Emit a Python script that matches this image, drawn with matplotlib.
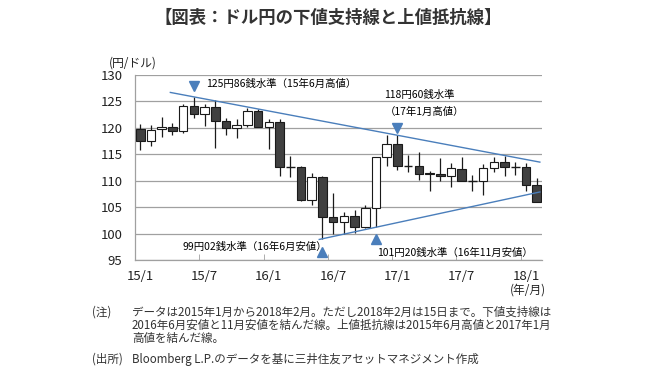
import matplotlib

matplotlib.use("Agg")

import matplotlib.pyplot as plt
import numpy as np

plt.rcParams["font.family"] = ["Noto Sans CJK JP", "DejaVu Sans"]

# monthly USD/JPY, 2015/1 .. 2018/2
opens = [119.8, 117.5, 119.7, 120.2, 119.4, 124.2, 122.6, 124.0, 121.3, 119.9, 120.6, 123.1,
         120.2, 121.1, 112.6, 112.6, 106.4, 110.7, 103.2, 102.1, 103.4, 101.3, 104.9, 114.4,
         116.9, 112.8, 112.8, 111.5, 111.3, 110.8, 112.3, 110.0, 110.0, 112.4, 113.5, 112.6,
         112.6, 109.2]
highs = [120.8, 120.6, 122.1, 121.0, 124.5, 125.86, 124.6, 125.3, 121.8, 121.6, 123.8, 123.6,
         121.7, 121.6, 114.6, 112.7, 111.4, 110.8, 107.7, 104.0, 104.4, 105.4, 114.4, 118.66,
         118.60, 114.9, 115.5, 111.8, 114.3, 113.3, 114.4, 111.1, 113.2, 114.4, 114.6, 113.5,
         113.3, 110.5]
lows = [115.9, 116.6, 118.3, 118.6, 119.0, 121.9, 120.4, 116.2, 118.6, 118.0, 120.2, 120.2,
        116.0, 110.9, 110.7, 106.1, 105.4, 99.02, 100.0, 99.9, 100.1, 101.1, 101.20, 112.8,
        112.1, 111.6, 110.1, 108.1, 110.0, 108.9, 110.0, 108.1, 107.3, 111.6, 110.8, 111.1,
        108.1, 105.9]
closes = [117.5, 119.6, 120.2, 119.4, 124.2, 122.6, 124.0, 121.3, 119.9, 120.6, 123.1, 120.2,
          121.1, 112.6, 112.6, 106.4, 110.7, 103.2, 102.1, 103.4, 101.3, 104.9, 114.4, 116.9,
          112.8, 112.8, 111.3, 111.3, 110.8, 112.4, 110.0, 110.0, 112.4, 113.5, 112.6, 112.6,
          109.2, 105.9]

tick_labels = ["15/1", "15/7", "16/1", "16/7", "17/1", "17/7", "18/1"]
tick_idx = [0, 6, 12, 18, 24, 30, 36]

# trendline anchors: (month index, price)
res_pts = [(5, 125.86), (24, 118.60)]   # 15/6 high, 17/1 high
sup_pts = [(17, 99.02), (22, 101.20)]   # 16/6 low, 16/11 low

W, H = 667, 373
fig = plt.figure(figsize=(W / 100, H / 100), dpi=100)
ax = fig.add_axes([135 / W, 1 - 260 / H, 407 / W, 185 / H])

x = np.arange(len(opens))
bw = 0.8
dark = "#404040"
edge = "#1a1a1a"

ax.vlines(x, lows, highs, color=edge, lw=0.9, zorder=2)
for i in x:
    o, c = opens[i], closes[i]
    if abs(c - o) < 0.15:
        ax.hlines(o, i - bw / 2, i + bw / 2, color=edge, lw=1.0, zorder=3)
    else:
        ax.bar(i, abs(c - o), bottom=min(o, c), width=bw,
               color=dark if c < o else "white", edgecolor=edge, lw=0.8, zorder=3)

blue = "#4a7ebb"
for pts, x0 in [(res_pts, 2.8), (sup_pts, 16.7)]:
    (xa, ya), (xb, yb) = pts
    k = (yb - ya) / (xb - xa)
    xs = np.array([x0, 37.3])
    ax.plot(xs, ya + k * (xs - xa), color=blue, lw=1.0, zorder=4)

ax.plot([5, 24], [128.0, 119.9], "v", color=blue, ms=7, zorder=5)
ax.plot([17, 22], [96.6, 99.0], "^", color=blue, ms=7, zorder=5)

fs = 7.5
ax.text(6.1, 128.3, "125円86銭水準（15年6月高値）", fontsize=fs, va="center")
ax.text(22.8, 126.2, "118円60銭水準", fontsize=fs, va="center")
ax.text(22.8, 123.0, "（17年1月高値）", fontsize=fs, va="center")
ax.text(3.9, 97.5, "99円02銭水準（16年6月安値）", fontsize=fs, va="center")
ax.text(22.1, 96.3, "101円20銭水準（16年11月安値）", fontsize=fs, va="center")

ax.set_xlim(-0.5, 37.5)
ax.set_ylim(95, 130)
ax.set_yticks(np.arange(95, 131, 5))
ax.set_xticks(tick_idx)
ax.set_xticklabels(tick_labels)
ax.set_xticks(np.arange(5.5, 37, 6), minor=True)
ax.grid(axis="y", color="#a0a0a0", lw=0.9)
ax.set_axisbelow(True)
ax.tick_params(axis="y", length=0, pad=9, labelsize=9.5, labelcolor="#222")
ax.tick_params(axis="x", which="major", length=0, pad=7, labelsize=9.5, labelcolor="#222")
ax.tick_params(axis="x", which="minor", direction="in", length=4, color="#a0a0a0")
for s in ["top", "right"]:
    ax.spines[s].set_visible(False)
for s in ["left", "bottom"]:
    ax.spines[s].set_color("#a0a0a0")
    ax.spines[s].set_linewidth(0.9)


def ftext(px, py, s, **kw):
    fig.text(px / W, 1 - py / H, s, **kw)


ftext(328, 18, "【図表：ドル円の下値支持線と上値抵抗線】", fontsize=12.5,
      fontweight="bold", ha="center", va="center", color="#333")
ftext(133, 63, "(円/ドル)", fontsize=8.5, ha="center", va="center", color="#222")
ftext(528, 290, "(年/月)", fontsize=8.5, ha="center", va="center", color="#222")

nfs = 8.3
ftext(92, 312, "(注)", fontsize=nfs, va="center", color="#333")
ftext(132, 312, "データは2015年1月から2018年2月。ただし2018年2月は15日まで。下値支持線は",
      fontsize=nfs, va="center", color="#333")
ftext(132, 325, "2016年6月安値と11月安値を結んだ線。上値抵抗線は2015年6月高値と2017年1月",
      fontsize=nfs, va="center", color="#333")
ftext(132, 338, "高値を結んだ線。", fontsize=nfs, va="center", color="#333")
ftext(92, 359, "(出所)", fontsize=nfs, va="center", color="#333")
ftext(132, 359, "Bloomberg L.P.のデータを基に三井住友アセットマネジメント作成",
      fontsize=nfs, va="center", color="#333")

fig.savefig("out.png", dpi=100)
